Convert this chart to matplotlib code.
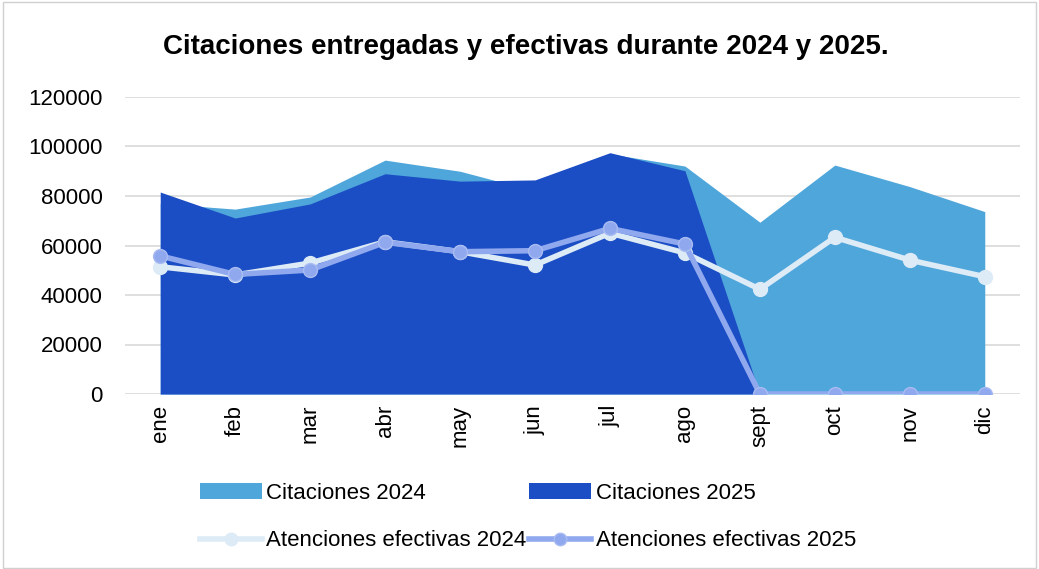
import matplotlib.pyplot as plt
import numpy as np

months = ["ene", "feb", "mar", "abr", "may", "jun", "jul", "ago", "sept", "oct", "nov", "dic"]
citaciones_2024 = [77000, 74700, 79600, 94500, 90000, 82000, 97000, 92100, 69400, 92500, 83800, 73700]
citaciones_2025 = [81600, 71100, 76800, 89000, 86000, 86500, 97500, 90200, 0, 0, 0, 0]
atenciones_2024 = [51400, 48100, 52900, 61500, 57500, 52100, 65000, 57000, 42300, 63300, 54100, 47400]
atenciones_2025 = [55800, 48300, 50100, 61300, 57500, 57900, 66900, 60600, 0, 0, 0, 0]

c24 = "#4FA6DB"
c25 = "#1B4DC4"
l24 = "#DDEBF7"
l25 = "#8FA8EE"

plt.rcParams["font.family"] = ["Liberation Sans", "DejaVu Sans"]

fig = plt.figure(figsize=(10.39, 5.69), dpi=100)
ax = fig.add_axes([125 / 1039, 1 - 394 / 569, (1020 - 125) / 1039, (394 - 97) / 569])

x = np.arange(len(months))
ax.fill_between(x, 0, citaciones_2024, color=c24, lw=0, label="Citaciones 2024", zorder=2)
ax.fill_between(x, 0, citaciones_2025, color=c25, lw=0, label="Citaciones 2025", zorder=3)
ax.plot(x, atenciones_2024, color=l24, lw=4, marker="o", ms=10, mfc=l24, mec=l24,
        label="Atenciones efectivas 2024", zorder=4)
ax.plot(x, atenciones_2025, color=l25, lw=4, marker="o", ms=10, mfc=l25, mec="#A9BCF2",
        label="Atenciones efectivas 2025", zorder=5)

ax.set_xlim(-0.47, 11.47)
ax.set_ylim(0, 120000)
ax.set_yticks(np.arange(0, 120001, 20000))
ax.set_xticks(x)
ax.set_xticklabels(months, rotation=90, fontsize=16)
ax.tick_params(axis="y", labelsize=16, length=0, pad=16)
ax.tick_params(axis="x", length=0, pad=8)
ax.grid(axis="y", color="#D9D9D9", lw=1.2, zorder=0)
ax.set_axisbelow(True)
for s in ax.spines.values():
    s.set_visible(False)

fig.text(0.506, 1 - 47 / 569, "Citaciones entregadas y efectivas durante 2024 y 2025.",
         ha="center", va="center", fontsize=20, fontweight="bold")

h, lab = ax.get_legend_handles_labels()
order = [0, 2, 1, 3]
fig.legend([h[i] for i in order], [lab[i] for i in order], ncol=2, frameon=False,
           loc="center", bbox_to_anchor=(0.508, 1 - 517 / 569), fontsize=16,
           handlelength=2.8, handletextpad=0.2, columnspacing=0.1, labelspacing=1.2,
           markerscale=0.9)

fig.patches.append(plt.Rectangle((0.003, 0.002), 0.994, 0.995, transform=fig.transFigure,
                                 fill=False, edgecolor="#D0D0D0", lw=1))

fig.savefig("out.png", dpi=100)
